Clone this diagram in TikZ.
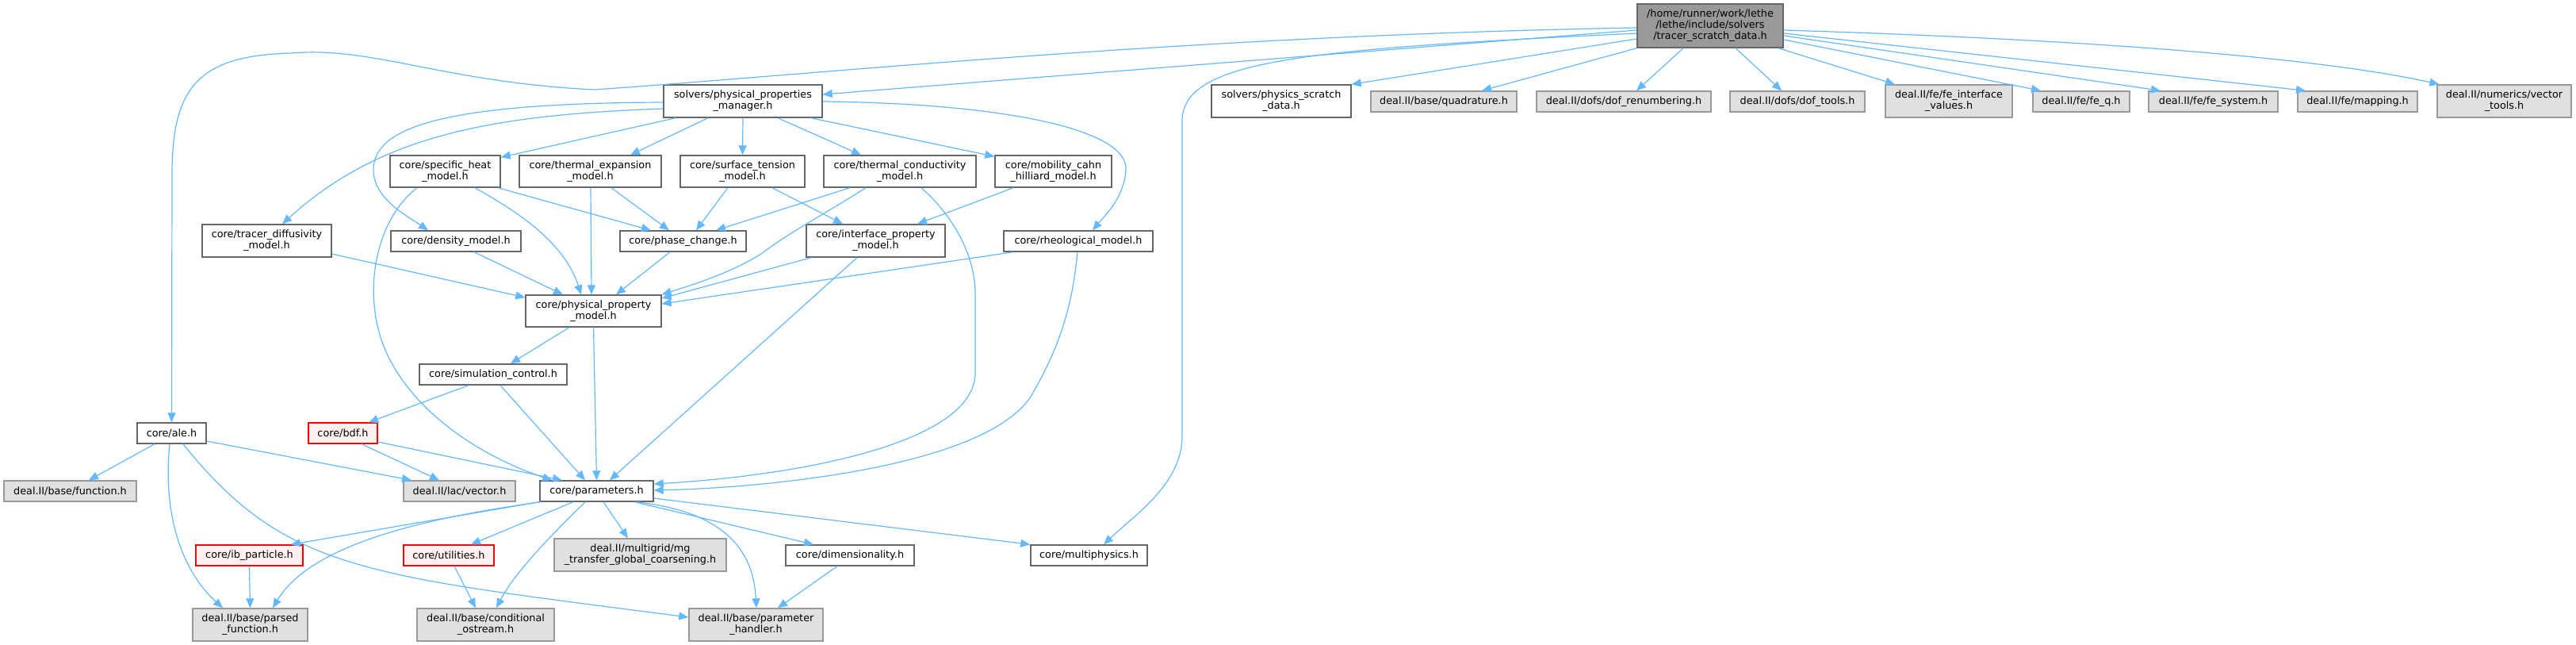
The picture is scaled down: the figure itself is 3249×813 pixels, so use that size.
\documentclass[tikz,border=0pt]{standalone}
\usepackage{fontspec}
\setmainfont{DejaVu Sans}
\usetikzlibrary{arrows.meta}
\definecolor{edgec}{HTML}{63B8FF}
\definecolor{nborder}{HTML}{666666}
\definecolor{extborder}{HTML}{999999}
\definecolor{extfill}{HTML}{E0E0E0}
\definecolor{rootfill}{HTML}{999999}
\definecolor{redfill}{HTML}{FFF0F0}
\definecolor{redborder}{HTML}{FF0000}
\tikzset{
  sz/.style 2 args={minimum width=#1pt, minimum height=#2pt},
  nb/.style={draw=nborder, fill=white, line width=1.4pt, inner sep=0pt, align=center,
             font=\fontsize{12.8}{14}\selectfont, text=black},
  ext/.style={nb, draw=extborder, fill=extfill},
  rednode/.style={nb, draw=redborder, fill=redfill},
  rootn/.style={nb, fill=rootfill},
  dep/.style={draw=edgec, line width=1.2pt, -{Triangle[length=12pt,width=10pt,fill=edgec]}}
}
\begin{document}
\begin{tikzpicture}[x=1pt,y=-1pt]
\useasboundingbox (0,0) rectangle (3249,813);
% ---- nodes
\node[rootn, sz={184}{55}] (root) at (2157,32.5) {/home/runner/work/lethe\\/lethe/include/solvers\\/tracer\_scratch\_data.h};
\node[nb, sz={200}{41}] (ppm) at (937,127.5) {solvers/physical\_properties\\\_manager.h};
\node[nb, sz={176}{41}] (psd) at (1616,127.5) {solvers/physics\_scratch\\\_data.h};
\node[ext, sz={184}{26}] (quad) at (1821,128) {deal.II/base/quadrature.h};
\node[ext, sz={220}{26}] (dofr) at (2048,128) {deal.II/dofs/dof\_renumbering.h};
\node[ext, sz={170}{26}] (doft) at (2267,128) {deal.II/dofs/dof\_tools.h};
\node[ext, sz={160}{41}] (fei) at (2458,127.5) {deal.II/fe/fe\_interface\\\_values.h};
\node[ext, sz={122}{26}] (feq) at (2625,128) {deal.II/fe/fe\_q.h};
\node[ext, sz={163}{26}] (fes) at (2791.5,128) {deal.II/fe/fe\_system.h};
\node[ext, sz={151}{26}] (map) at (2973.5,128) {deal.II/fe/mapping.h};
\node[ext, sz={169}{41}] (vt) at (3158.5,127.5) {deal.II/numerics/vector\\\_tools.h};

\node[nb, sz={139}{40}] (sh) at (561.5,216) {core/specific\_heat\\\_model.h};
\node[nb, sz={179}{40}] (te) at (744.5,216) {core/thermal\_expansion\\\_model.h};
\node[nb, sz={157}{40}] (st) at (936.5,216) {core/surface\_tension\\\_model.h};
\node[nb, sz={192}{40}] (tc) at (1135,216) {core/thermal\_conductivity\\\_model.h};
\node[nb, sz={147}{40}] (mob) at (1328.5,216) {core/mobility\_cahn\\\_hilliard\_model.h};

\node[nb, sz={163}{41}] (td) at (336.5,303.5) {core/tracer\_diffusivity\\\_model.h};
\node[nb, sz={164}{26}] (dens) at (575,304) {core/density\_model.h};
\node[nb, sz={159}{26}] (pc) at (861.5,304) {core/phase\_change.h};
\node[nb, sz={175}{41}] (ip) at (1104.5,303.5) {core/interface\_property\\\_model.h};
\node[nb, sz={188}{26}] (rh) at (1360,304) {core/rheological\_model.h};

\node[nb, sz={171}{40}] (ppmod) at (748.5,392) {core/physical\_property\\\_model.h};
\node[nb, sz={186}{26}] (sc) at (622,472) {core/simulation\_control.h};
\node[nb, sz={87}{26}] (ale) at (216.5,546) {core/ale.h};
\node[rednode, sz={87}{26}] (bdf) at (432.5,546) {core/bdf.h};
\node[ext, sz={167}{26}] (fun) at (88.5,619) {deal.II/base/function.h};
\node[ext, sz={141}{26}] (vec) at (579.5,619) {deal.II/lac/vector.h};
\node[nb, sz={143}{26}] (par) at (752.5,619) {core/parameters.h};
\node[rednode, sz={135}{26}] (ib) at (314.5,700) {core/ib\_particle.h};
\node[rednode, sz={114}{26}] (ut) at (566,700) {core/utilities.h};
\node[ext, sz={217}{41}] (mg) at (807.5,699.5) {deal.II/multigrid/mg\\\_transfer\_global\_coarsening.h};
\node[nb, sz={162}{26}] (dim) at (1072,700) {core/dimensionality.h};
\node[nb, sz={147}{26}] (mp) at (1373.5,700) {core/multiphysics.h};
\node[ext, sz={145}{41}] (pf) at (315.5,787.5) {deal.II/base/parsed\\\_function.h};
\node[ext, sz={173}{41}] (co) at (612.5,787.5) {deal.II/base/conditional\\\_ostream.h};
\node[ext, sz={169}{41}] (ph) at (953.5,787.5) {deal.II/base/parameter\\\_handler.h};

% ---- edges from root
\draw[dep] ([yshift=-5.5pt]root.west) -- ([yshift=8.5pt]ppm.east);
\draw[dep] ([yshift=-2.5pt]root.west) .. controls (1500,45) and (1050,92) .. (750,113)
  .. controls (560,104) and (470,58) .. (367,67)
  .. controls (250,70) and (217,110) .. (217,220) -- (ale.north);
\draw[dep] ([yshift=-9.5pt]root.west) .. controls (1650,62) and (1495,75) .. (1491,150)
  -- (1491,550) .. controls (1491,610) and (1430,650) .. ([xshift=18.5pt]mp.north);
\draw[dep] ([yshift=-16.5pt]root.west) -- (psd.north east);
\draw[dep] (root.south west) -- ([xshift=48pt]quad.north);
\draw[dep] ([xshift=-34pt]root.south) -- ([xshift=16pt]dofr.north);
\draw[dep] ([xshift=32pt]root.south) -- ([xshift=-20pt]doft.north);
\draw[dep] ([xshift=86pt]root.south) -- ([xshift=-68pt]fei.north);
\draw[dep] ([yshift=-17.5pt]root.east) -- ([xshift=-51pt]feq.north);
\draw[dep] ([yshift=-12.5pt]root.east) -- ([xshift=-66.5pt]fes.north);
\draw[dep] ([yshift=-9.5pt]root.east) -- ([xshift=-65.5pt]map.north);
\draw[dep] ([yshift=-5.5pt]root.east) .. controls (2700,52) and (2950,78) .. ([xshift=3pt]vt.north west);

% ---- edges from physical properties manager
\draw[dep] ([yshift=-1.5pt]ppm.west) .. controls (560,130) and (470,160) .. (471,215)
  .. controls (472,250) and (510,270) .. ([xshift=-35pt]dens.north);
\draw[dep] ([yshift=-9.5pt]ppm.west) .. controls (620,145) and (480,170) .. ([xshift=19.5pt]td.north);
\draw[dep] ([xshift=-85pt]ppm.south) -- ([yshift=-3pt]sh.north east);
\draw[dep] ([xshift=-44pt]ppm.south) -- ([xshift=50.5pt]te.north);
\draw[dep] (ppm.south) -- (st.north);
\draw[dep] ([xshift=44pt]ppm.south) -- ([xshift=-49pt]tc.north);
\draw[dep] ([xshift=86pt]ppm.south) -- ([yshift=-2pt]mob.north west);
\draw[dep] ([yshift=-0.5pt]ppm.east) .. controls (1250,130) and (1425,160) .. (1420,215)
  .. controls (1417,250) and (1395,270) .. ([xshift=18pt]rh.north);

% ---- model edges
\draw[dep] ([xshift=66.5pt]sh.south) -- ([xshift=-40.5pt]pc.north);
\draw[dep] ([xshift=37.5pt]sh.south) .. controls (640,260) and (710,300) .. ([xshift=-15.5pt]ppmod.north);
\draw[dep] ([xshift=-35.5pt]sh.south) .. controls (470,280) and (455,380) .. (490,450)
  .. controls (530,530) and (620,580) .. ([xshift=16pt]par.north west);
\draw[dep] ([xshift=0.5pt]te.south) -- ([xshift=-2.5pt]ppmod.north);
\draw[dep] ([xshift=26.5pt]te.south) -- ([xshift=-17.5pt]pc.north);
\draw[dep] ([xshift=-18.5pt]st.south) -- ([xshift=16.5pt]pc.north);
\draw[dep] ([xshift=37.5pt]st.south) -- ([xshift=-41.5pt]ip.north);
\draw[dep] ([xshift=-63pt]tc.south) -- ([xshift=41.5pt]pc.north);
\draw[dep] ([xshift=-43pt]tc.south) .. controls (1040,270) and (1000,290) .. (960,320)
  .. controls (920,345) and (870,360) .. (ppmod.north east);
\draw[dep] ([xshift=27pt]tc.south) .. controls (1200,270) and (1230,320) .. (1230,370)
  -- (1230,470) .. controls (1230,560) and (1000,600) .. ([yshift=9pt]par.east);
\draw[dep] ([xshift=-50.5pt]mob.south) -- ([xshift=52.5pt]ip.north);
\draw[dep] ([xshift=-81.5pt]ip.south) -- ([yshift=16pt]ppmod.east);
\draw[dep] ([xshift=-23.5pt]ip.south) -- ([xshift=16.5pt]par.north);
\draw[dep] ([xshift=-82pt]rh.south) -- ([yshift=9pt]ppmod.east);
\draw[dep] ([xshift=-1pt]rh.south) .. controls (1352,390) and (1335,440) .. (1300,500)
  .. controls (1240,590) and (960,615) .. ([yshift=1pt]par.east);
\draw[dep] ([xshift=-16.5pt]pc.south) -- ([xshift=28.5pt]ppmod.north);
\draw[dep] ([xshift=23pt]dens.south) -- ([xshift=-38.5pt]ppmod.north);
\draw[dep] ([yshift=-16.5pt]td.east) -- ([yshift=17pt]ppmod.west);

% ---- lower part
\draw[dep] ([xshift=-30.5pt]ppmod.south) -- ([xshift=22pt]sc.north);
\draw[dep] (ppmod.south) -- (par.north);
\draw[dep] ([xshift=-31pt]sc.south) -- ([xshift=32.5pt]bdf.north);
\draw[dep] ([xshift=9pt]sc.south) -- ([xshift=-14.5pt]par.north);
\draw[dep] ([xshift=-21.5pt]ale.south) -- ([xshift=23.5pt]fun.north);
\draw[dep] ([yshift=-10pt]ale.east) -- ([xshift=-60.5pt]vec.north);
\draw[dep] ([xshift=-2.5pt]ale.south) .. controls (205,650) and (230,720) .. ([xshift=-34.5pt]pf.north);
\draw[dep] ([xshift=14.5pt]ale.south) .. controls (360,720) and (460,725) .. ([yshift=9.5pt]ph.west);
\draw[dep] ([xshift=23.5pt]bdf.south) -- ([xshift=-25.5pt]vec.north);
\draw[dep] ([yshift=-11pt]bdf.east) -- ([xshift=-43.5pt]par.north);
\draw[dep] (par.south west) -- ([xshift=52.5pt]ib.north);
\draw[dep] ([xshift=2pt]par.south west) .. controls (520,655) and (390,690) .. ([xshift=28.5pt]pf.north);
\draw[dep] ([xshift=-29.5pt]par.south) -- ([xshift=28pt]ut.north);
\draw[dep] ([xshift=-14.5pt]par.south) .. controls (700,670) and (650,720) .. ([xshift=13.5pt]co.north);
\draw[dep] ([xshift=8.5pt]par.south) -- ([xshift=-15.5pt]mg.north);
\draw[dep] ([xshift=50.5pt]par.south) .. controls (910,645) and (950,690) .. ([xshift=0.5pt]ph.north);
\draw[dep] ([xshift=48pt]par.south) -- ([xshift=-46pt]dim.north);
\draw[dep] ([yshift=-9pt]par.east) -- (mp.north west);
\draw[dep] (ib.south) -- (pf.north);
\draw[dep] ([xshift=7pt]ut.south) -- ([xshift=-12.5pt]co.north);
\draw[dep] ([xshift=-16pt]dim.south) -- ([xshift=27.5pt]ph.north);
\end{tikzpicture}
\end{document}
